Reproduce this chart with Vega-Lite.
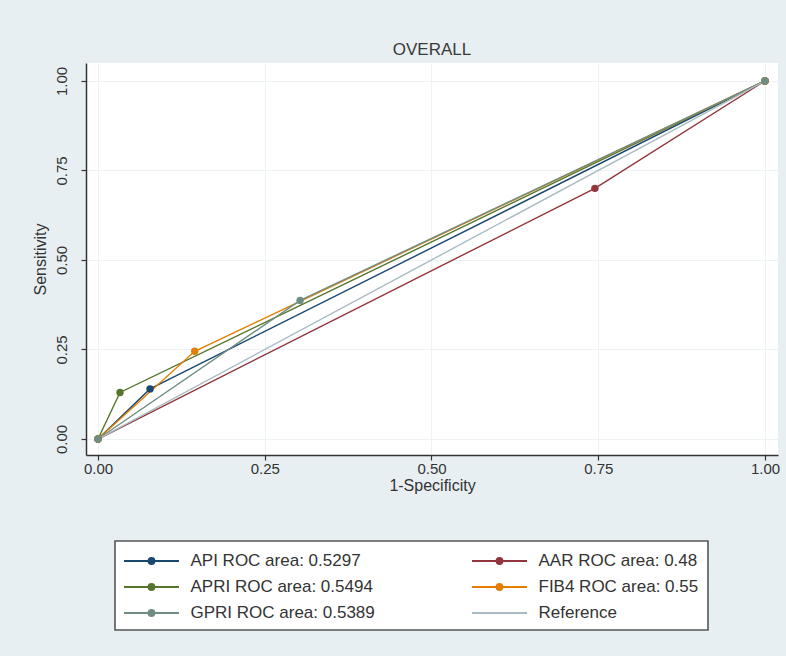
{
  "$schema": "https://vega.github.io/schema/vega-lite/v6.json",
  "width": 692,
  "height": 392,
  "autosize": {"type": "none"},
  "padding": {"left": 86, "top": 63, "right": 8, "bottom": 201},
  "background": "#e8eff2",
  "title": {"text": "OVERALL", "fontSize": 17, "font": "Liberation Sans", "fontWeight": "normal", "color": "#3a3a3a", "offset": 4},
  "config": {
    "view": {"fill": "white", "stroke": null},
    "axis": {
      "labelFont": "Liberation Sans", "labelFontSize": 15, "labelColor": "#333",
      "titleFont": "Liberation Sans", "titleFontSize": 16, "titleFontWeight": "normal", "titleColor": "#333",
      "domainColor": "#333", "domainWidth": 1.5, "tickColor": "#333", "tickSize": 5, "tickWidth": 1.2,
      "gridColor": "#edf2f4", "gridWidth": 1
    }
  },
  "data": {"values": [
    {"s": "API ROC area: 0.5297", "x": 0, "y": 0},
    {"s": "API ROC area: 0.5297", "x": 0.078, "y": 0.14},
    {"s": "API ROC area: 0.5297", "x": 1, "y": 1},
    {"s": "AAR ROC area: 0.48", "x": 0, "y": 0},
    {"s": "AAR ROC area: 0.48", "x": 0.745, "y": 0.70},
    {"s": "AAR ROC area: 0.48", "x": 1, "y": 1},
    {"s": "APRI ROC area: 0.5494", "x": 0, "y": 0},
    {"s": "APRI ROC area: 0.5494", "x": 0.033, "y": 0.13},
    {"s": "APRI ROC area: 0.5494", "x": 1, "y": 1},
    {"s": "FIB4 ROC area: 0.55", "x": 0, "y": 0},
    {"s": "FIB4 ROC area: 0.55", "x": 0.145, "y": 0.245},
    {"s": "FIB4 ROC area: 0.55", "x": 1, "y": 1},
    {"s": "GPRI ROC area: 0.5389", "x": 0, "y": 0},
    {"s": "GPRI ROC area: 0.5389", "x": 0.303, "y": 0.387},
    {"s": "GPRI ROC area: 0.5389", "x": 1, "y": 1},
    {"s": "Reference", "x": 0, "y": 0},
    {"s": "Reference", "x": 1, "y": 1}
  ]},
  "encoding": {
    "x": {"field": "x", "type": "quantitative",
      "scale": {"domain": [-0.018, 1.0195], "nice": false, "zero": false},
      "axis": {"title": "1-Specificity", "values": [0, 0.25, 0.5, 0.75, 1], "format": ".2f", "labelPadding": 1, "titlePadding": 1}},
    "y": {"field": "y", "type": "quantitative",
      "scale": {"domain": [-0.0446, 1.05], "nice": false, "zero": false},
      "axis": {"title": "Sensitivity", "values": [0, 0.25, 0.5, 0.75, 1], "format": ".2f", "labelAngle": -90, "labelAlign": "center", "labelBaseline": "bottom", "labelPadding": 12, "titlePadding": 6}},
    "color": {"field": "s", "type": "nominal",
      "scale": {
        "domain": ["API ROC area: 0.5297", "APRI ROC area: 0.5494", "GPRI ROC area: 0.5389", "AAR ROC area: 0.48", "FIB4 ROC area: 0.55", "Reference"],
        "range": ["#1a476f", "#55752f", "#6e8e84", "#90353b", "#e37e00", "#a9bac3"]
      },
      "legend": {
        "orient": "none", "legendX": 29, "legendY": 478,
        "columns": 2, "title": null,
        "labelFont": "Liberation Sans", "labelFontSize": 17, "labelColor": "#333", "labelLimit": 400,
        "symbolSize": 400, "symbolOffset": 16.5, "labelOffset": 28, "columnPadding": 93, "rowPadding": 7,
        "padding": 9, "fillColor": "white", "strokeColor": "#555",
        "encode": {
          "legend": {"update": {"strokeWidth": {"value": 1.6}}},
          "symbols": {"update": {
            "shape": {"signal": "datum.value === 'Reference' ? 'M-2.75,0H2.75' : 'M-2.75,0H2.75M0.3,0A0.3,0.3 0 1 1 -0.3,0A0.3,0.3 0 1 1 0.3,0Z'"},
            "fill": {"scale": "color", "field": "value"},
            "stroke": {"scale": "color", "field": "value"},
            "strokeWidth": {"value": 1.8},
            "opacity": {"value": 1}
          }}
        }
      }
    }
  },
  "layer": [
    {"mark": {"type": "line", "strokeWidth": 1.4}},
    {"transform": [{"filter": "datum.s !== 'Reference'"}],
     "mark": {"type": "point", "filled": true, "size": 55, "opacity": 1}}
  ]
}
